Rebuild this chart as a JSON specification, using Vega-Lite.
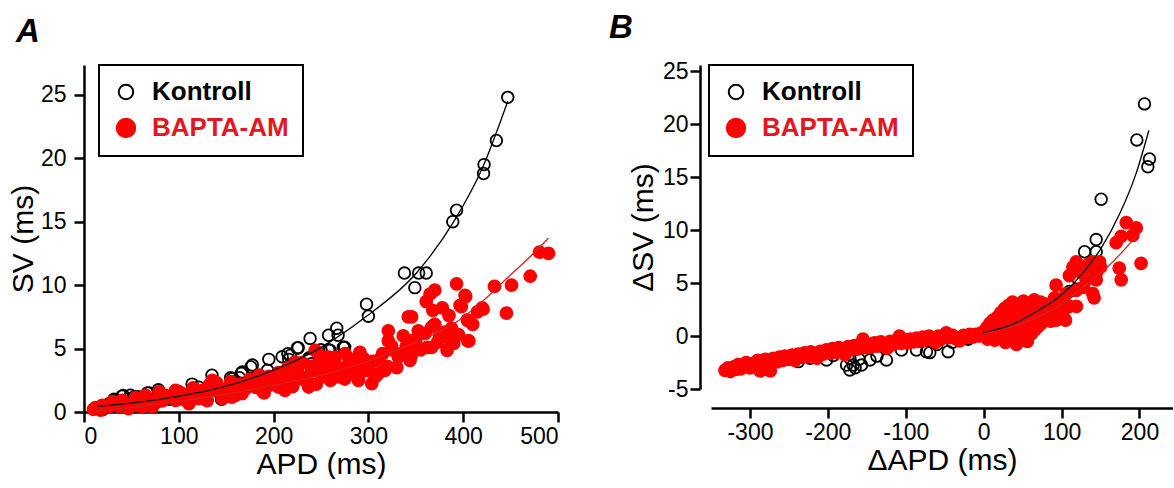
{
  "$schema": "https://vega.github.io/schema/vega-lite/v6.json",
  "padding": {"left": 8, "top": 12, "right": 0, "bottom": 0},
  "spacing": 49,
  "config": {
    "view": {"stroke": null},
    "font": "Liberation Sans",
    "axis": {
      "grid": false, "domainColor": "#000000", "domainWidth": 2.5, "tickColor": "#000000", "tickWidth": 2.5, "tickSize": 10,
      "labelFont": "Liberation Sans", "labelFontSize": 23, "labelColor": "#000000",
      "titleFont": "Liberation Sans", "titleFontSize": 30, "titleFontWeight": "normal", "titleColor": "#000000"
    },
    "legend": {"labelFontSize": 26, "labelFontWeight": "bold", "labelFont": "Liberation Sans", "symbolStrokeWidth": 2, "strokeColor": "#000000", "strokeWidth": 2, "padding": 14, "rowPadding": 9, "labelOffset": 13},
    "title": {"font": "Liberation Sans", "fontSize": 33, "fontWeight": "bold", "fontStyle": "italic", "color": "#000000", "anchor": "start", "frame": "group", "baseline": "alphabetic"}
  },
  "resolve": {"scale": {"fill": "independent", "stroke": "independent", "x": "independent", "y": "independent"}, "legend": {"fill": "independent", "stroke": "independent"}},
  "datasets": {
    "ak": [
      {"x":447,"y":24.8},{"x":435,"y":21.4},{"x":422,"y":19.5},{"x":421.5,"y":18.8},{"x":393,"y":15.9},{"x":389,"y":15.0},{"x":338,"y":10.95},{"x":349,"y":9.8},{"x":353,"y":10.95},{"x":361,"y":10.95},{"x":298,"y":8.5},{"x":300,"y":7.55},{"x":266.6,"y":6.6},{"x":268,"y":6.05},{"x":258,"y":6.05},{"x":238.5,"y":5.8},{"x":273.6,"y":5.1},{"x":225,"y":5.05},{"x":250,"y":4.9},{"x":258,"y":4.9},{"x":215,"y":4.6},{"x":209,"y":4.35},{"x":216,"y":4.15},{"x":236.5,"y":4.15},{"x":195,"y":4.15},{"x":193.6,"y":3.3},{"x":176,"y":3.55},{"x":166,"y":3.05},{"x":164,"y":2.7},{"x":154.6,"y":2.7},{"x":135,"y":2.9},{"x":114,"y":2.2},{"x":121,"y":1.95},{"x":145,"y":1.0},{"x":78.5,"y":1.75},{"x":68.7,"y":1.5},{"x":41.4,"y":1.3},{"x":53,"y":1.2},{"x":57,"y":1.2},{"x":31.6,"y":1.0},{"x":25.8,"y":0.63},{"x":20,"y":0.2},{"x":40,"y":1.24},{"x":49,"y":1.32},{"x":66.7,"y":1.5},{"x":156.5,"y":2.63},{"x":167,"y":3.16},{"x":177.6,"y":3.7},{"x":33,"y":0.92},{"x":30,"y":0.5},{"x":60,"y":0.6},{"x":90,"y":1.0},{"x":100,"y":1.1},{"x":110,"y":1.4},{"x":130,"y":1.7},{"x":180,"y":2.3},{"x":200,"y":2.5},{"x":220,"y":3.0},{"x":240,"y":3.8},{"x":226,"y":5.07},{"x":217.5,"y":4.46},{"x":259.6,"y":4.86},{"x":275,"y":5.1},{"x":237.5,"y":4.28}
    ],
    "ab": [
      {"x":393,"y":10.1},{"x":433,"y":9.9},{"x":445.6,"y":7.8},{"x":370,"y":9.6},{"x":365,"y":9.3},{"x":361,"y":8.7},{"x":368,"y":8.0},{"x":378,"y":8.2},{"x":402,"y":9.2},{"x":398,"y":8.3},{"x":421,"y":8.1},{"x":405,"y":7.2},{"x":406,"y":5.6},{"x":387.7,"y":6.6},{"x":384,"y":5.85},{"x":375,"y":5.85},{"x":366.7,"y":6.7},{"x":366.7,"y":5.1},{"x":383,"y":4.86},{"x":352.6,"y":6.4},{"x":342,"y":7.5},{"x":345.6,"y":7.5},{"x":336.8,"y":6.0},{"x":321,"y":6.4},{"x":321,"y":5.6},{"x":324.6,"y":5.2},{"x":345.6,"y":5.6},{"x":349,"y":5.0},{"x":343.9,"y":4.07},{"x":331.6,"y":4.33},{"x":317.5,"y":3.28},{"x":307,"y":2.76},{"x":310.5,"y":4.07},{"x":291,"y":4.7},{"x":293,"y":3.94},{"x":298,"y":3.28},{"x":275.4,"y":4.6},{"x":279,"y":3.8},{"x":282.5,"y":3.0},{"x":265,"y":3.8},{"x":261,"y":3.0},{"x":247,"y":4.6},{"x":249,"y":3.8},{"x":250.9,"y":2.76},{"x":240,"y":3.28},{"x":233,"y":2.5},{"x":226,"y":3.0},{"x":237,"y":1.97},{"x":221,"y":2.36},{"x":212,"y":2.5},{"x":212,"y":1.7},{"x":205,"y":1.97},{"x":198,"y":2.5},{"x":191,"y":2.2},{"x":187.7,"y":1.7},{"x":180.7,"y":1.97},{"x":173.7,"y":2.2},{"x":166.7,"y":1.44},{"x":159.6,"y":1.97},{"x":156,"y":1.18},{"x":149,"y":1.7},{"x":145.6,"y":1.44},{"x":268,"y":2.76},{"x":303.5,"y":2.23},{"x":289.5,"y":2.5},{"x":222.8,"y":3.94},{"x":214,"y":3.28},{"x":275.4,"y":3.0},{"x":258,"y":4.33},{"x":243.9,"y":4.86},
      {"x":480.5,"y":12.6},{"x":490,"y":12.5},{"x":470.7,"y":10.7},{"x":451,"y":10.0},{"x":404.4,"y":7.26},{"x":405,"y":5.6},{"x":396.7,"y":8.4},{"x":402.6,"y":9.1},{"x":420,"y":8.2},
      {"x":12.1,"y":0.35},{"x":19.2,"y":0.53},{"x":26.2,"y":0.4},{"x":36.8,"y":0.45},{"x":43.8,"y":0.61},{"x":50.9,"y":0.53},{"x":57.9,"y":0.66},{"x":61.4,"y":0.4},{"x":68.4,"y":0.92},{"x":75.5,"y":0.71},{"x":82.5,"y":0.87},{"x":89.5,"y":1.13},{"x":96.6,"y":0.92},{"x":103.6,"y":1.45},{"x":107.2,"y":1.13},{"x":114.2,"y":1.32},{"x":121.2,"y":1.05},{"x":128.3,"y":1.32},{"x":131.8,"y":2.1},{"x":135.3,"y":2.5},{"x":138.8,"y":1.71},{"x":145.9,"y":1.45},{"x":152.9,"y":1.97},{"x":160,"y":1.32},{"x":167,"y":1.71},{"x":174,"y":2.1},{"x":181,"y":1.97},{"x":188,"y":2.37},{"x":195,"y":2.1},{"x":198.7,"y":2.63},{"x":64.9,"y":1.32},{"x":79,"y":1.58},{"x":29.7,"y":0.79},{"x":40.3,"y":0.92},{"x":17.4,"y":0.14},{"x":10,"y":0.2},{"x":54.4,"y":1.13},{"x":96.6,"y":1.71},{"x":86,"y":1.32},{"x":145.9,"y":1.05},{"x":124.7,"y":1.71},{"x":72,"y":0.4},{"x":47,"y":0.27},{"x":110.7,"y":0.66},
      {"x":100,"y":1.6},{"x":105,"y":1.0},{"x":115,"y":1.9},{"x":125,"y":1.4},{"x":130,"y":0.9},{"x":140,"y":2.3},{"x":150,"y":1.3},{"x":155,"y":2.4},{"x":165,"y":2.2},{"x":170,"y":1.8},{"x":175,"y":2.6},{"x":185,"y":2.9},{"x":190,"y":1.5},{"x":195,"y":2.8},{"x":200,"y":2.2},{"x":205,"y":3.1},{"x":210,"y":2.1},{"x":215,"y":3.5},{"x":220,"y":2.0},{"x":225,"y":3.4},{"x":230,"y":3.9},{"x":235,"y":2.7},{"x":240,"y":3.6},{"x":245,"y":2.2},{"x":250,"y":3.3},{"x":255,"y":3.9},{"x":260,"y":2.5},{"x":265,"y":4.3},{"x":270,"y":3.4},{"x":275,"y":2.6},{"x":280,"y":4.2},{"x":285,"y":3.5},{"x":290,"y":2.9},{"x":295,"y":4.2},{"x":300,"y":3.6},{"x":305,"y":4.0},{"x":310,"y":3.0},{"x":315,"y":4.6},{"x":320,"y":3.6},{"x":325,"y":4.9},{"x":330,"y":3.5},{"x":335,"y":4.6},{"x":340,"y":5.2},{"x":345,"y":4.4},{"x":350,"y":5.7},{"x":355,"y":4.9},{"x":360,"y":6.2},{"x":362,"y":5.1},{"x":370,"y":6.9},{"x":373,"y":5.5},{"x":380,"y":6.3},{"x":385,"y":7.6},{"x":390,"y":5.4},{"x":395,"y":6.1},{"x":410,"y":6.9},{"x":415,"y":7.9}
    ],
    "ack": [{"x":15,"y":0.45},{"x":65,"y":0.84},{"x":100,"y":1.25},{"x":143,"y":1.9},{"x":200,"y":3.3},{"x":248,"y":5.0},{"x":299,"y":7.6},{"x":350,"y":10.9},{"x":390,"y":15.0},{"x":420,"y":19.2},{"x":447,"y":24.5}],
    "acb": [{"x":12,"y":0.1},{"x":60,"y":0.45},{"x":100,"y":0.85},{"x":150,"y":1.4},{"x":200,"y":2.1},{"x":250,"y":2.9},{"x":300,"y":4.0},{"x":350,"y":5.5},{"x":374,"y":6.3},{"x":393,"y":7.1},{"x":420,"y":8.7},{"x":447,"y":10.6},{"x":470,"y":12.2},{"x":490,"y":13.7}],
    "bk": [
      {"x":206.4,"y":21.9},{"x":196.6,"y":18.5},{"x":212.8,"y":16.7},{"x":210.7,"y":15.97},{"x":150.8,"y":12.9},{"x":144.4,"y":9.1},{"x":144.4,"y":7.95},{"x":129.5,"y":7.95},{"x":-171.8,"y":-3.2},{"x":-167.5,"y":-2.74},{"x":-176,"y":-2.74},{"x":-156.8,"y":-2.74},{"x":-146,"y":-2.26},{"x":-124.8,"y":-2.26},{"x":-73.5,"y":-1.48},{"x":-69.2,"y":-1.57},{"x":-45.7,"y":-1.48},{"x":-201.7,"y":-2.26},{"x":-238,"y":-2.42},{"x":-171.8,"y":-2.1},{"x":-137,"y":-1.9},{"x":-105.5,"y":-1.32},{"x":-86.3,"y":-1.32},{"x":-124.8,"y":-1.0},{"x":-99,"y":-0.63},{"x":-193,"y":-1.85},{"x":-223,"y":-2.1},{"x":-165,"y":-3.0},{"x":-160,"y":-2.2},{"x":-60,"y":-0.8},{"x":-40,"y":-0.6},{"x":-20,"y":-0.3},{"x":20,"y":0.5},{"x":50,"y":1.5},{"x":80,"y":2.0},{"x":110,"y":4.2},{"x":120,"y":5.5}
    ],
    "bb": [
      {"x":-332,"y":-3.25},{"x":-328,"y":-3.0},{"x":-325,"y":-3.35},{"x":-320,"y":-2.9},{"x":-318,"y":-3.15},{"x":-315,"y":-2.7},{"x":-312,"y":-3.1},{"x":-308,"y":-2.85},{"x":-305,"y":-2.5},{"x":-300,"y":-3.0},{"x":-298,"y":-2.6},{"x":-295,"y":-2.85},{"x":-290,"y":-2.3},{"x":-287,"y":-3.3},{"x":-285,"y":-2.6},{"x":-280,"y":-2.2},{"x":-278,"y":-2.5},{"x":-274,"y":-3.3},{"x":-270,"y":-2.1},{"x":-265,"y":-2.45},{"x":-262,"y":-2.0},{"x":-258,"y":-2.3},{"x":-255,"y":-1.9},{"x":-250,"y":-2.2},{"x":-246,"y":-1.8},{"x":-242,"y":-2.3},{"x":-238,"y":-1.7},{"x":-234,"y":-2.0},{"x":-230,"y":-1.6},{"x":-226,"y":-1.95},{"x":-222,"y":-1.5},{"x":-218,"y":-1.8},{"x":-214,"y":-2.1},{"x":-210,"y":-1.45},{"x":-206,"y":-1.7},{"x":-202,"y":-1.3},{"x":-198,"y":-1.6},{"x":-194,"y":-1.2},{"x":-190,"y":-1.55},{"x":-186,"y":-1.1},{"x":-182,"y":-1.4},{"x":-178,"y":-1.75},{"x":-174,"y":-1.0},{"x":-170,"y":-1.3},{"x":-166,"y":-0.9},{"x":-162,"y":-1.25},{"x":-158,"y":-0.8},{"x":-155,"y":-0.3},{"x":-152,"y":-1.1},{"x":-148,"y":-0.75},{"x":-144,"y":-1.05},{"x":-140,"y":-0.65},{"x":-136,"y":-0.95},{"x":-132,"y":-0.55},{"x":-128,"y":-0.85},{"x":-124,"y":-1.15},{"x":-120,"y":-0.5},{"x":-116,"y":-0.8},{"x":-112,"y":-0.4},{"x":-108,"y":0.0},{"x":-106,"y":-0.7},{"x":-102,"y":-0.35},{"x":-98,"y":-0.65},{"x":-94,"y":-0.3},{"x":-90,"y":-0.55},{"x":-86,"y":-0.2},{"x":-82,"y":-0.5},{"x":-78,"y":-0.1},{"x":-74,"y":-0.4},{"x":-70,"y":0.0},{"x":-66,"y":-0.3},{"x":-62,"y":-0.6},{"x":-58,"y":0.0},{"x":-54,"y":-0.25},{"x":-48,"y":0.3},{"x":-44,"y":-0.15},{"x":-40,"y":0.05},{"x":-36,"y":-0.25},{"x":-31,"y":-0.45},{"x":-26,"y":0.05},{"x":-22,"y":-0.15},{"x":-18,"y":0.15},{"x":-14,"y":-0.1},{"x":-10,"y":0.15},{"x":-6,"y":0.0},{"x":-3,"y":0.3},
      {"x":2,"y":0.2},{"x":4,"y":0.8},{"x":5,"y":-0.3},{"x":7,"y":0.5},{"x":8,"y":1.2},{"x":10,"y":0.0},{"x":11,"y":0.7},{"x":12,"y":1.5},{"x":14,"y":-0.4},{"x":15,"y":0.4},{"x":16,"y":1.0},{"x":18,"y":1.8},{"x":19,"y":-0.2},{"x":20,"y":0.6},{"x":21,"y":1.3},{"x":22,"y":2.2},{"x":24,"y":0.1},{"x":25,"y":0.9},{"x":26,"y":1.6},{"x":27,"y":2.6},{"x":28,"y":-0.6},{"x":29,"y":0.4},{"x":30,"y":1.2},{"x":31,"y":2.0},{"x":32,"y":2.9},{"x":33,"y":-0.1},{"x":34,"y":0.8},{"x":35,"y":1.5},{"x":36,"y":2.4},{"x":37,"y":3.2},{"x":38,"y":0.3},{"x":39,"y":1.1},{"x":40,"y":1.9},{"x":41,"y":2.7},{"x":42,"y":-0.8},{"x":43,"y":0.6},{"x":44,"y":1.4},{"x":45,"y":2.2},{"x":46,"y":3.0},{"x":47,"y":0.0},{"x":48,"y":1.0},{"x":49,"y":1.7},{"x":50,"y":2.5},{"x":51,"y":3.3},{"x":52,"y":0.4},{"x":53,"y":1.2},{"x":54,"y":2.0},{"x":55,"y":2.8},{"x":56,"y":-0.5},{"x":57,"y":0.8},{"x":58,"y":1.5},{"x":59,"y":2.3},{"x":60,"y":3.1},{"x":61,"y":0.2},{"x":62,"y":1.1},{"x":63,"y":1.9},{"x":64,"y":2.6},{"x":65,"y":3.4},{"x":66,"y":0.6},{"x":67,"y":1.4},{"x":68,"y":2.2},{"x":69,"y":2.9},{"x":70,"y":0.9},{"x":71,"y":1.7},{"x":72,"y":2.5},{"x":73,"y":3.2},{"x":74,"y":1.2},{"x":75,"y":2.0},{"x":76,"y":2.8},{"x":78,"y":1.5},{"x":79,"y":2.3},{"x":80,"y":3.0},{"x":82,"y":1.8},{"x":83,"y":2.6},{"x":85,"y":2.1},{"x":86,"y":1.4},{"x":88,"y":2.5},{"x":90,"y":1.8},{"x":92,"y":2.2},{"x":95,"y":1.6},{"x":97,"y":2.4},{"x":100,"y":1.9},{"x":103,"y":2.6},{"x":105,"y":1.5},{"x":107,"y":2.9},
      {"x":183,"y":10.7},{"x":195.8,"y":10.2},{"x":191.4,"y":9.5},{"x":170,"y":8.8},{"x":176.5,"y":9.4},{"x":202,"y":6.86},{"x":174,"y":6.4},{"x":176.5,"y":5.3},{"x":148.7,"y":7.0},{"x":140,"y":7.0},{"x":131.6,"y":6.5},{"x":144.4,"y":5.9},{"x":144.4,"y":5.3},{"x":118.8,"y":7.0},{"x":114.5,"y":6.5},{"x":110,"y":5.7},{"x":131.6,"y":5.3},{"x":140,"y":4.0},{"x":141.7,"y":3.6},{"x":118.8,"y":4.3},{"x":110,"y":2.8},{"x":119,"y":2.8},{"x":93,"y":4.8},{"x":91,"y":3.6},{"x":97.4,"y":3.4},{"x":101.7,"y":2.14},{"x":93,"y":1.5},{"x":106,"y":4.0},{"x":125,"y":6.0},{"x":135,"y":6.8},{"x":128,"y":4.6},{"x":150,"y":6.5}
    ],
    "bck": [{"x":0,"y":0.3},{"x":40,"y":1.2},{"x":70,"y":2.4},{"x":100,"y":3.9},{"x":130,"y":6.2},{"x":150,"y":8.2},{"x":175,"y":11.6},{"x":195,"y":15.2},{"x":212,"y":19.4}],
    "bcb": [{"x":0,"y":0.2},{"x":50,"y":1.2},{"x":100,"y":3.0},{"x":125,"y":4.5},{"x":150,"y":5.9},{"x":175,"y":7.7},{"x":200,"y":9.8}]
  },
  "hconcat": [
    {
      "title": {"text": "A", "dx": -68, "offset": 15},
      "width": 474,
      "height": 347,
      "layer": [
        {
          "data": {"name": "ak"},
          "transform": [{"calculate": "'K'", "as": "g"}],
          "mark": {"type": "point", "size": 135, "strokeWidth": 1.8, "opacity": 1},
          "encoding": {
            "x": {"field": "x", "type": "quantitative", "scale": {"domain": [0, 500], "nice": false}, "axis": {"values": [0, 100, 200, 300, 400, 500], "title": "APD (ms)", "labelPadding": 3, "titlePadding": 1}},
            "y": {"field": "y", "type": "quantitative", "scale": {"domain": [0, 27.35], "nice": false}, "axis": {"values": [0, 5, 10, 15, 20, 25], "title": "SV (ms)", "labelPadding": 8, "titlePadding": 2}},
            "fill": {"field": "g", "type": "nominal", "scale": {"domain": ["K", "B"], "range": ["transparent", "#ff0000"]},
              "legend": {"title": null, "orient": "none", "legendX": 15, "legendY": 0, "labelExpr": "datum.value == 'K' ? 'Kontroll' : 'BAPTA-AM'",
                "labelColor": {"expr": "datum.value == 'B' ? '#e2171f' : '#000000'"}, "symbolSize": {"expr": "datum.value == 'K' ? 210 : 340"}}},
            "stroke": {"field": "g", "type": "nominal", "scale": {"domain": ["K", "B"], "range": ["#000000", "#ff0000"]},
              "legend": {"title": null, "orient": "none", "legendX": 15, "legendY": 0, "labelExpr": "datum.value == 'K' ? 'Kontroll' : 'BAPTA-AM'",
                "labelColor": {"expr": "datum.value == 'B' ? '#e2171f' : '#000000'"}, "symbolSize": {"expr": "datum.value == 'K' ? 210 : 340"}}}
          }
        },
        {
          "data": {"name": "ab"},
          "transform": [{"calculate": "'B'", "as": "g"}],
          "mark": {"type": "point", "size": 150, "strokeWidth": 1.5, "opacity": 1},
          "encoding": {
            "x": {"field": "x", "type": "quantitative"},
            "y": {"field": "y", "type": "quantitative"},
            "fill": {"field": "g", "type": "nominal"},
            "stroke": {"field": "g", "type": "nominal"}
          }
        },
        {
          "data": {"name": "ack"},
          "mark": {"type": "line", "color": "#000000", "strokeWidth": 1.3, "interpolate": "monotone"},
          "encoding": {"x": {"field": "x", "type": "quantitative"}, "y": {"field": "y", "type": "quantitative"}}
        },
        {
          "data": {"name": "acb"},
          "mark": {"type": "line", "color": "#d42020", "strokeWidth": 1.3, "interpolate": "monotone"},
          "encoding": {"x": {"field": "x", "type": "quantitative"}, "y": {"field": "y", "type": "quantitative"}}
        }
      ]
    },
    {
      "title": {"text": "B", "dx": -102, "offset": 15},
      "width": 462,
      "height": 324,
      "layer": [
        {
          "mark": {"type": "rule", "strokeDash": [8, 5], "strokeWidth": 2.5, "color": "#000000"},
          "encoding": {"y": {"datum": 0, "type": "quantitative"}, "x": {"datum": -350, "type": "quantitative"}, "x2": {"datum": 243}}
        },
        {
          "data": {"name": "bk"},
          "transform": [{"calculate": "'K'", "as": "g"}],
          "mark": {"type": "point", "size": 135, "strokeWidth": 1.8, "opacity": 1},
          "encoding": {
            "x": {"field": "x", "type": "quantitative", "scale": {"domain": [-350, 243], "nice": false}, "axis": {"values": [-300, -200, -100, 0, 100, 200], "labelExpr": "datum.value + ''", "title": "ΔAPD (ms)", "offset": 19, "labelPadding": 3, "titlePadding": 1}},
            "y": {"field": "y", "type": "quantitative", "scale": {"domain": [-5, 25.57], "nice": false}, "axis": {"values": [-5, 0, 5, 10, 15, 20, 25], "labelExpr": "datum.value + ''", "title": "ΔSV (ms)", "offset": 11, "labelPadding": 2, "titlePadding": 4}},
            "fill": {"field": "g", "type": "nominal", "scale": {"domain": ["K", "B"], "range": ["transparent", "#ff0000"]},
              "legend": {"title": null, "orient": "none", "legendX": -2, "legendY": 0, "labelExpr": "datum.value == 'K' ? 'Kontroll' : 'BAPTA-AM'",
                "labelColor": {"expr": "datum.value == 'B' ? '#e2171f' : '#000000'"}, "symbolSize": {"expr": "datum.value == 'K' ? 210 : 340"}}},
            "stroke": {"field": "g", "type": "nominal", "scale": {"domain": ["K", "B"], "range": ["#000000", "#ff0000"]},
              "legend": {"title": null, "orient": "none", "legendX": -2, "legendY": 0, "labelExpr": "datum.value == 'K' ? 'Kontroll' : 'BAPTA-AM'",
                "labelColor": {"expr": "datum.value == 'B' ? '#e2171f' : '#000000'"}, "symbolSize": {"expr": "datum.value == 'K' ? 210 : 340"}}}
          }
        },
        {
          "data": {"name": "bb"},
          "transform": [{"calculate": "'B'", "as": "g"}],
          "mark": {"type": "point", "size": 150, "strokeWidth": 1.5, "opacity": 1},
          "encoding": {
            "x": {"field": "x", "type": "quantitative"},
            "y": {"field": "y", "type": "quantitative"},
            "fill": {"field": "g", "type": "nominal"},
            "stroke": {"field": "g", "type": "nominal"}
          }
        },
        {
          "mark": {"type": "rule", "strokeDash": [8, 5], "strokeWidth": 2.5, "color": "#000000"},
          "encoding": {"x": {"datum": 0, "type": "quantitative"}, "y": {"datum": 25.28, "type": "quantitative"}, "y2": {"datum": -6.8}}
        },
        {
          "data": {"name": "bck"},
          "mark": {"type": "line", "color": "#000000", "strokeWidth": 1.3, "interpolate": "monotone"},
          "encoding": {"x": {"field": "x", "type": "quantitative"}, "y": {"field": "y", "type": "quantitative"}}
        },
        {
          "data": {"name": "bcb"},
          "mark": {"type": "line", "color": "#d42020", "strokeWidth": 1.3, "interpolate": "monotone"},
          "encoding": {"x": {"field": "x", "type": "quantitative"}, "y": {"field": "y", "type": "quantitative"}}
        }
      ]
    }
  ]
}
